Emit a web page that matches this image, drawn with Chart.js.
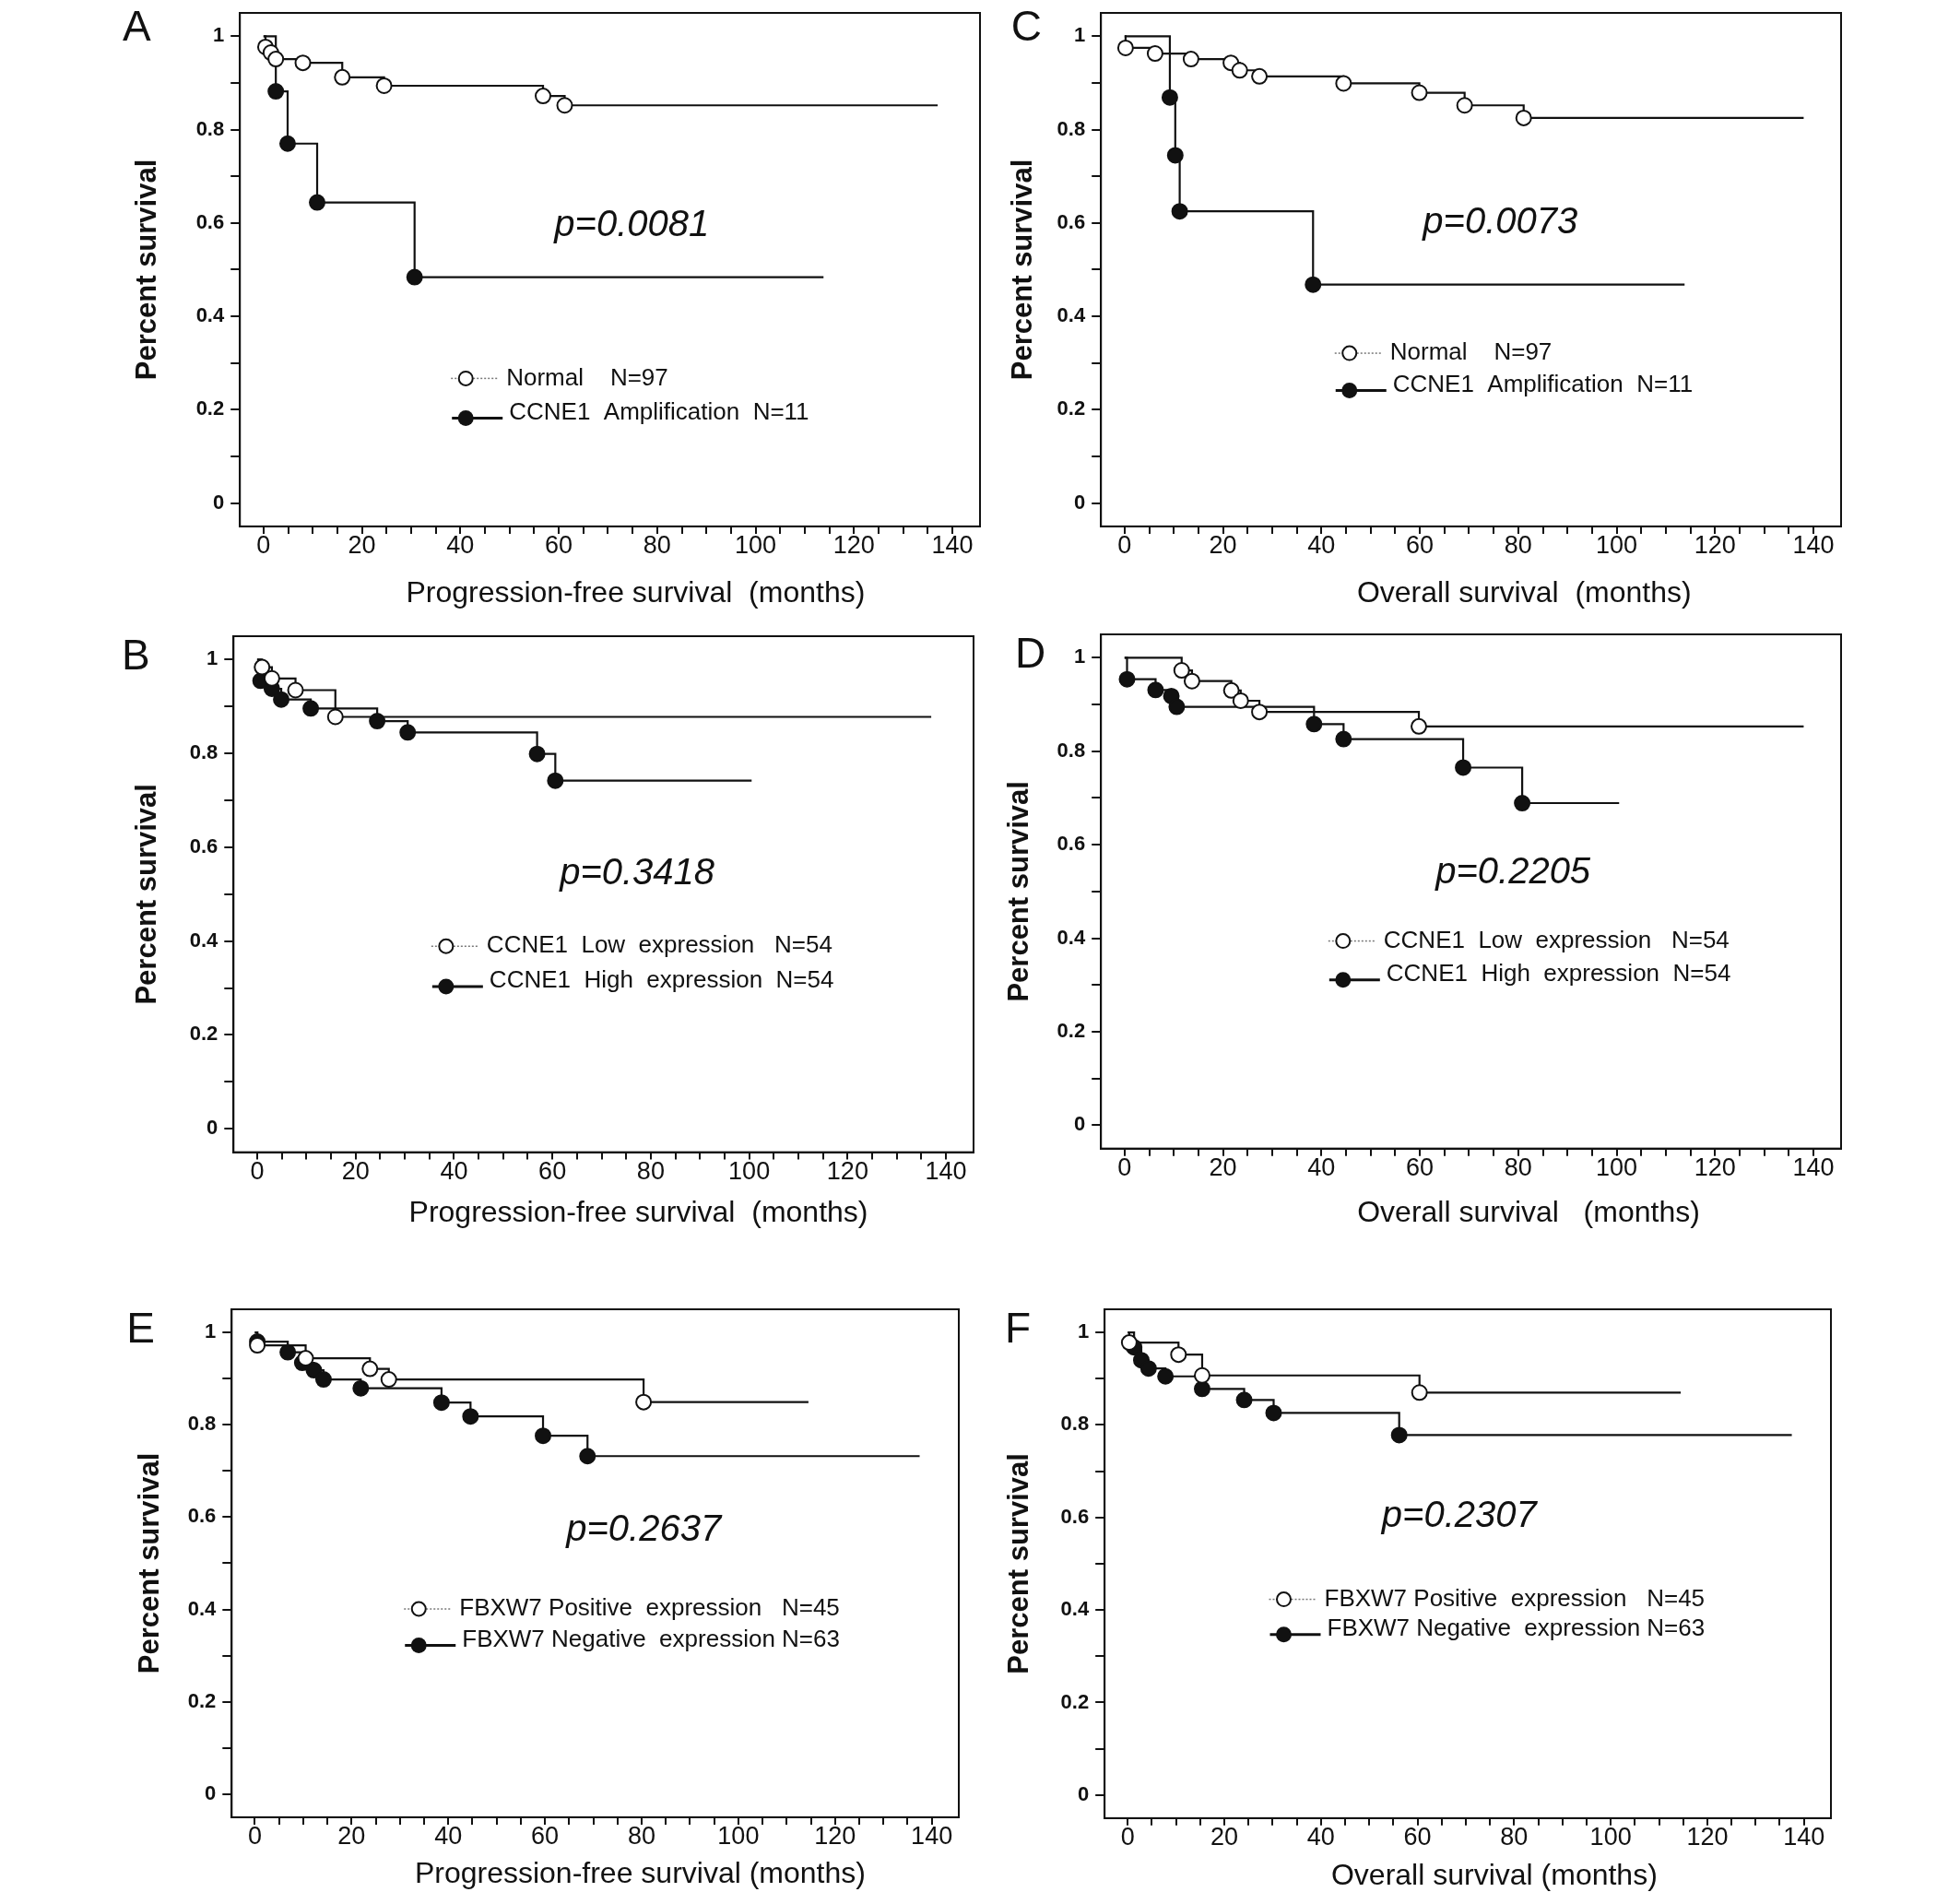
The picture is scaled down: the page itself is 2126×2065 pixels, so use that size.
<!DOCTYPE html>
<html>
<head>
<meta charset="utf-8">
<script src="https://cdn.jsdelivr.net/npm/chart.js@4.4.1/dist/chart.umd.min.js"></script>
<style>
  html, body { margin: 0; padding: 0; background: #fff; }
  body { width: 2126px; height: 2065px; position: relative; overflow: hidden; }
  canvas { position: absolute; }
</style>
</head>
<body>
<script>
// Kaplan-Meier curves: event times (months) and survival after each event
const A_normal_t = [0.4, 1.5, 2.5, 8, 16, 24.5, 56.8, 61.2];
const A_normal_s = [0.977, 0.965, 0.951, 0.943, 0.912, 0.894, 0.872, 0.852];
const A_normal_end = 137;
const A_amp_t = [2.5, 4.9, 10.9, 30.7];
const A_amp_s = [0.882, 0.770, 0.644, 0.484];
const A_amp_end = 113.8;

const B_low_t = [1, 3, 7.8, 15.9];
const B_low_s = [0.984, 0.960, 0.935, 0.878];
const B_low_end = 137;
const B_high_t = [0.7, 3, 4.9, 10.9, 24.4, 30.6, 56.9, 60.6];
const B_high_s = [0.955, 0.938, 0.915, 0.896, 0.869, 0.845, 0.799, 0.742];
const B_high_end = 100.5;

const C_normal_t = [0.2, 6.2, 13.5, 21.6, 23.4, 27.4, 44.5, 59.9, 69.1, 81.1];
const C_normal_s = [0.975, 0.963, 0.951, 0.943, 0.927, 0.914, 0.899, 0.879, 0.852, 0.825];
const C_normal_end = 138;
const C_amp_t = [9.2, 10.3, 11.2, 38.3];
const C_amp_s = [0.869, 0.745, 0.625, 0.468];
const C_amp_end = 113.8;

const D_low_t = [11.6, 13.7, 21.7, 23.6, 27.4, 59.8];
const D_low_s = [0.973, 0.950, 0.930, 0.908, 0.884, 0.853];
const D_low_end = 138;
const D_high_t = [0.5, 6.3, 9.5, 10.6, 38.5, 44.5, 68.8, 80.8];
const D_high_s = [0.954, 0.931, 0.918, 0.895, 0.858, 0.826, 0.765, 0.689];
const D_high_end = 100.5;

const E_pos_t = [0.5, 10.5, 23.8, 27.7, 80.4];
const E_pos_s = [0.972, 0.944, 0.921, 0.898, 0.849];
const E_pos_end = 114.5;
const E_neg_t = [0.5, 6.8, 9.8, 12.2, 14.2, 21.9, 38.6, 44.6, 59.6, 68.8];
const E_neg_s = [0.98, 0.957, 0.934, 0.918, 0.898, 0.879, 0.848, 0.818, 0.776, 0.732];
const E_neg_end = 137.5;

const F_pos_t = [0.3, 10.5, 15.4, 60.4];
const F_pos_s = [0.978, 0.952, 0.907, 0.870];
const F_pos_end = 114.5;
const F_neg_t = [1.3, 2.8, 4.3, 7.8, 15.4, 24.1, 30.2, 56.2];
const F_neg_s = [0.968, 0.940, 0.922, 0.905, 0.878, 0.854, 0.826, 0.778];
const F_neg_end = 137.5;

const xTickValues = [];
for (let v = 0; v <= 140; v += 5) xTickValues.push(v);
const yTickValues = [0, 0.1, 0.2, 0.3, 0.4, 0.5, 0.6, 0.7, 0.8, 0.9, 1];
const yTickLabels = ['0', '', '0.2', '', '0.4', '', '0.6', '', '0.8', '', '1'];

const PFS = 'Progression-free survival  (months)';
const OS = 'Overall survival  (months)';

const FONT = "'Liberation Sans', Arial, Helvetica, sans-serif";
const INK = '#111';
const K = 0.9894; // page coordinates below were measured on a slightly larger grid

function kmPoints(t, s, end) {
  const pts = [{ x: 0, y: 1 }];
  t.forEach((v, i) => pts.push({ x: v, y: s[i] }));
  pts.push({ x: end, y: s[s.length - 1] });
  return pts;
}

function kmSet(t, s, end, open) {
  return {
    data: kmPoints(t, s, end),
    stepped: true,
    borderColor: INK,
    borderWidth: 2.2,
    pointRadius: c => (c.dataIndex === 0 || c.dataIndex === c.dataset.data.length - 1) ? 0 : 8,
    pointHoverRadius: 0,
    pointBackgroundColor: open ? '#fff' : INK,
    pointBorderColor: INK,
    pointBorderWidth: 2,
    fill: false
  };
}

const panels = [
  { letter: 'A', box: [263, 14, 1074, 577], yTitleX: 162, xTitleY: 651, xTitle: PFS, xTitleAt: 75.6, letterOff: [-113, 17.5],
    p: 'p=0.0081', pAt: [59.1, 0.594], legendAt: [41.1, 0.267, 0.182],
    names: ['Normal    N=97', 'CCNE1  Amplification  N=11'],
    sets: [kmSet(A_normal_t, A_normal_s, A_normal_end, true), kmSet(A_amp_t, A_amp_s, A_amp_end, false)] },
  { letter: 'C', box: [1207, 14, 2018, 577], yTitleX: 1122, xTitleY: 651, xTitle: OS, xTitleAt: 81.2, letterOff: [-81.6, 17.5],
    p: 'p=0.0073', pAt: [60.6, 0.599], legendAt: [45.7, 0.321, 0.241],
    names: ['Normal    N=97', 'CCNE1  Amplification  N=11'],
    sets: [kmSet(C_normal_t, C_normal_s, C_normal_end, true), kmSet(C_amp_t, C_amp_s, C_amp_end, false)] },
  { letter: 'B', box: [256, 697, 1067, 1263], yTitleX: 162, xTitleY: 1330, xTitle: PFS, xTitleAt: 77.5, letterOff: [-107, 24],
    p: 'p=0.3418', pAt: [61.5, 0.544], legendAt: [38.4, 0.389, 0.303],
    names: ['CCNE1  Low  expression   N=54', 'CCNE1  High  expression  N=54'],
    sets: [kmSet(B_low_t, B_low_s, B_low_end, true), kmSet(B_high_t, B_high_s, B_high_end, false)] },
  { letter: 'D', box: [1207, 695, 2018, 1259], yTitleX: 1118, xTitleY: 1330, xTitle: 'Overall survival   (months)', xTitleAt: 82.1, letterOff: [-77.5, 23.7],
    p: 'p=0.2205', pAt: [63.2, 0.539], legendAt: [44.4, 0.394, 0.311],
    names: ['CCNE1  Low  expression   N=54', 'CCNE1  High  expression  N=54'],
    sets: [kmSet(D_low_t, D_low_s, D_low_end, true), kmSet(D_high_t, D_high_s, D_high_end, false)] },
  { letter: 'E', box: [254, 1435, 1051, 1992], yTitleX: 165, xTitleY: 2055, xTitle: 'Progression-free survival (months)', xTitleAt: 79.7, letterOff: [-99.7, 23.7],
    p: 'p=0.2637', pAt: [64.4, 0.572], legendAt: [33.9, 0.401, 0.322],
    names: ['FBXW7 Positive  expression   N=45', 'FBXW7 Negative  expression N=63'],
    sets: [kmSet(E_pos_t, E_pos_s, E_pos_end, true), kmSet(E_neg_t, E_neg_s, E_neg_end, false)] },
  { letter: 'F', box: [1211, 1435, 2007, 1993], yTitleX: 1118, xTitleY: 2057, xTitle: 'Overall survival (months)', xTitleAt: 75.9, letterOff: [-95.2, 23.7],
    p: 'p=0.2307', pAt: [52.6, 0.602], legendAt: [32.3, 0.423, 0.347],
    names: ['FBXW7 Positive  expression   N=45', 'FBXW7 Negative  expression N=63'],
    sets: [kmSet(F_pos_t, F_pos_s, F_pos_end, true), kmSet(F_neg_t, F_neg_s, F_neg_end, false)] }
];

// frame, panel letter, p value, legend and x title drawn on top of each chart
const decor = {
  id: 'decor',
  afterDraw(chart, args, o) {
    const { ctx, chartArea: a, scales: { x, y } } = chart;
    ctx.save();
    ctx.strokeStyle = INK;
    ctx.lineWidth = 2;
    ctx.strokeRect(a.left, a.top, a.right - a.left, a.bottom - a.top);

    ctx.fillStyle = INK;
    ctx.textBaseline = 'middle';
    ctx.textAlign = 'center';
    ctx.font = '46px ' + FONT;
    ctx.fillText(o.letter, a.left + o.letterOff[0] * K, a.top + o.letterOff[1] * K);

    ctx.font = 'italic 40px ' + FONT;
    ctx.textAlign = 'left';
    ctx.fillText(o.p, x.getPixelForValue(o.pAt[0]), y.getPixelForValue(o.pAt[1]));

    // legend
    const mx = x.getPixelForValue(o.legendAt[0]);
    const y1 = y.getPixelForValue(o.legendAt[1]);
    const y2 = y.getPixelForValue(o.legendAt[2]);
    ctx.font = '26px ' + FONT;
    ctx.strokeStyle = '#777';
    ctx.lineWidth = 1.5;
    ctx.setLineDash([2, 2]);
    ctx.beginPath(); ctx.moveTo(mx - 16, y1); ctx.lineTo(mx + 36, y1); ctx.stroke();
    ctx.setLineDash([]);
    ctx.strokeStyle = INK;
    ctx.lineWidth = 2;
    ctx.fillStyle = '#fff';
    ctx.beginPath(); ctx.arc(mx, y1, 7.5, 0, Math.PI * 2); ctx.fill(); ctx.stroke();
    ctx.fillStyle = INK;
    ctx.fillText(o.names[0], mx + 44, y1);

    ctx.lineWidth = 3;
    ctx.beginPath(); ctx.moveTo(mx - 15, y2); ctx.lineTo(mx + 40, y2); ctx.stroke();
    ctx.beginPath(); ctx.arc(mx, y2, 8.5, 0, Math.PI * 2); ctx.fill();
    ctx.fillText(o.names[1], mx + 47, y2 - 6);

    ctx.font = '32px ' + FONT;
    ctx.textAlign = 'center';
    ctx.fillText(o.xTitle, x.getPixelForValue(o.xTitleAt), a.bottom + (o.xTitleY - o.box[3]) * K);
    ctx.restore();
  }
};

const PAD_L = 60;
panels.forEach(p => {
  const [bl, bt, br, bb] = p.box.map(v => v * K);
  const yTitleX = p.yTitleX * K;
  const xTitleY = p.xTitleY * K;
  const titleHalf = 15.5;
  const left = Math.round(yTitleX - titleHalf - PAD_L);
  const top = Math.round(bt - 10);
  const width = Math.round(br + 10 - left);
  const bottom = Math.round(xTitleY + 28);
  const height = bottom - top;
  const yAxisW = bl - (left + PAD_L);
  const xAxisH = bottom - bb;

  const canvas = document.createElement('canvas');
  canvas.width = width;
  canvas.height = height;
  canvas.style.left = left + 'px';
  canvas.style.top = top + 'px';
  canvas.style.width = width + 'px';
  canvas.style.height = height + 'px';
  document.body.appendChild(canvas);

  new Chart(canvas.getContext('2d'), {
    type: 'line',
    data: { datasets: p.sets },
    plugins: [decor],
    options: {
      responsive: false,
      animation: false,
      devicePixelRatio: 1,
      layout: { padding: { left: PAD_L, top: 10, right: 10, bottom: 0 } },
      plugins: { legend: { display: false }, tooltip: { enabled: false }, decor: p },
      scales: {
        x: {
          type: 'linear', min: -4.8, max: 145.6,
          afterBuildTicks: s => { s.ticks = xTickValues.map(v => ({ value: v })); },
          afterFit: s => { s.height = xAxisH; s.paddingLeft = 0; s.paddingRight = 0; },
          ticks: {
            autoSkip: false, maxRotation: 0, padding: 0, color: INK,
            font: { family: FONT, size: 27, lineHeight: 1 },
            callback: v => (v % 20 === 0 ? String(v) : '')
          },
          grid: { drawOnChartArea: false, drawTicks: true, tickLength: 8, color: INK, lineWidth: 2 },
          border: { display: true, color: INK, width: 2 }
        },
        y: {
          type: 'linear', min: -0.05, max: 1.05,
          afterBuildTicks: s => { s.ticks = yTickValues.map(v => ({ value: v })); },
          afterFit: s => { s.width = yAxisW; s.paddingTop = 0; s.paddingBottom = 0; },
          ticks: {
            autoSkip: false, padding: 7, color: INK,
            font: { family: FONT, size: 22, weight: 'bold' },
            callback: (v, i) => yTickLabels[i]
          },
          grid: { drawOnChartArea: false, drawTicks: true, tickLength: 10, color: INK, lineWidth: 2 },
          border: { display: true, color: INK, width: 2 },
          title: { display: true, text: 'Percent survival', color: INK, padding: 0,
                   font: { family: FONT, size: 31, weight: 'bold', lineHeight: 1 } }
        }
      }
    }
  });
});
</script>
</body>
</html>
